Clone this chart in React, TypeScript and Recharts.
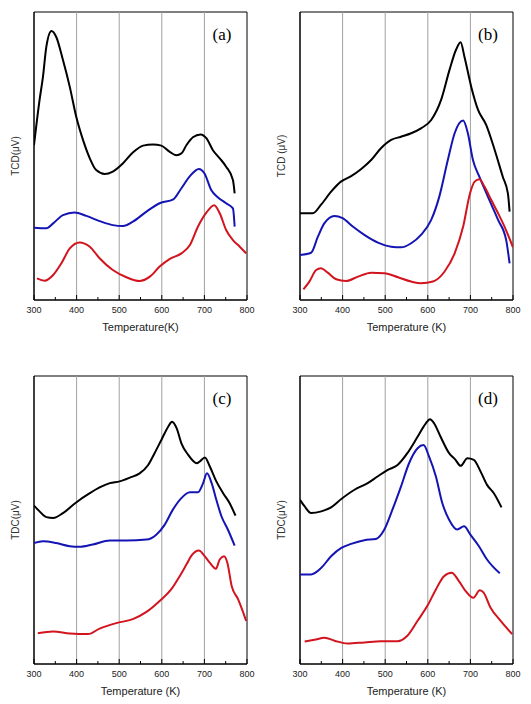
import React from 'react';
import { LineChart, Line, XAxis, YAxis, ReferenceLine, ReferenceArea } from 'recharts';

type P = { t: number; v: number };

const xTicks = [300, 350, 400, 450, 500, 550, 600, 650, 700, 750, 800];
const gridValues = [400, 500, 600, 700];

const aBlack: P[] = [
  { t: 300, v: 53.8 }, { t: 313, v: 69.4 }, { t: 321, v: 77.5 }, { t: 329, v: 88 }, { t: 341, v: 93.4 },
  { t: 352, v: 91.4 }, { t: 368, v: 83.3 }, { t: 384, v: 74 }, { t: 399, v: 63.7 }, { t: 415, v: 55.6 },
  { t: 431, v: 49.2 }, { t: 446, v: 45.1 }, { t: 466, v: 43.75 }, { t: 485, v: 44.6 }, { t: 509, v: 47.5 },
  { t: 532, v: 51.2 }, { t: 556, v: 53.6 }, { t: 579, v: 54 }, { t: 599, v: 53.6 }, { t: 618, v: 51.5 },
  { t: 634, v: 50.3 }, { t: 646, v: 50.9 }, { t: 658, v: 53.8 }, { t: 673, v: 56.5 }, { t: 691, v: 57.5 },
  { t: 705, v: 56.1 }, { t: 720, v: 52 }, { t: 736, v: 49.2 }, { t: 751, v: 46.3 }, { t: 767, v: 41.7 },
  { t: 771, v: 37 },
];
const aBlue: P[] = [
  { t: 300, v: 25.1 }, { t: 329, v: 24.9 }, { t: 345, v: 26.6 }, { t: 368, v: 29.5 }, { t: 395, v: 30.4 },
  { t: 423, v: 29.2 }, { t: 454, v: 27.4 }, { t: 485, v: 26 }, { t: 509, v: 25.7 }, { t: 532, v: 27.2 },
  { t: 564, v: 30.7 }, { t: 595, v: 33.6 }, { t: 627, v: 34.95 }, { t: 646, v: 38.8 }, { t: 666, v: 43 },
  { t: 687, v: 45.5 }, { t: 700, v: 44 }, { t: 716, v: 38.2 }, { t: 732, v: 35.6 }, { t: 751, v: 33.6 },
  { t: 767, v: 31.8 }, { t: 771, v: 25.5 },
];
const aRed: P[] = [
  { t: 307, v: 7.5 }, { t: 325, v: 6.7 }, { t: 345, v: 8.7 }, { t: 364, v: 12.7 }, { t: 384, v: 17.9 },
  { t: 407, v: 20 }, { t: 431, v: 18.5 }, { t: 454, v: 14.5 }, { t: 485, v: 10.4 }, { t: 517, v: 7.9 },
  { t: 548, v: 6.6 }, { t: 572, v: 8.1 }, { t: 595, v: 11.6 }, { t: 618, v: 14.2 }, { t: 646, v: 16.2 },
  { t: 666, v: 19.1 }, { t: 685, v: 25.5 }, { t: 705, v: 30.4 }, { t: 723, v: 32.9 }, { t: 736, v: 30.1 },
  { t: 751, v: 24.3 }, { t: 767, v: 20.8 }, { t: 783, v: 18.5 }, { t: 798, v: 16.2 },
];

const bBlack: P[] = [
  { t: 300, v: 30.1 }, { t: 330, v: 30.1 }, { t: 349, v: 33 }, { t: 373, v: 37.6 }, { t: 396, v: 41.1 },
  { t: 420, v: 43 }, { t: 443, v: 45.4 }, { t: 467, v: 48.6 }, { t: 490, v: 52.7 }, { t: 514, v: 55.6 },
  { t: 537, v: 56.7 }, { t: 561, v: 57.9 }, { t: 584, v: 59.6 }, { t: 608, v: 62.5 }, { t: 631, v: 69.4 },
  { t: 651, v: 79.9 }, { t: 666, v: 86.8 }, { t: 677, v: 89.5 }, { t: 686, v: 84.5 }, { t: 702, v: 74 },
  { t: 718, v: 66 }, { t: 737, v: 60.8 }, { t: 757, v: 52.1 }, { t: 776, v: 42.8 }, { t: 788, v: 37 },
  { t: 792, v: 30.7 },
];
const bBlue: P[] = [
  { t: 300, v: 15.6 }, { t: 326, v: 16.4 }, { t: 342, v: 22 }, { t: 357, v: 26.6 }, { t: 381, v: 29.2 },
  { t: 400, v: 28.4 }, { t: 424, v: 25.5 }, { t: 451, v: 22.6 }, { t: 483, v: 19.9 }, { t: 514, v: 18.5 },
  { t: 537, v: 18.3 }, { t: 561, v: 19.7 }, { t: 584, v: 22.6 }, { t: 608, v: 27.8 }, { t: 627, v: 35.9 },
  { t: 647, v: 48.6 }, { t: 663, v: 57.9 }, { t: 683, v: 62.3 }, { t: 694, v: 57.9 }, { t: 706, v: 48.6 },
  { t: 721, v: 42.8 }, { t: 741, v: 35.9 }, { t: 765, v: 27.8 }, { t: 784, v: 20.8 }, { t: 792, v: 12.7 },
];
const bRed: P[] = [
  { t: 308, v: 3.7 }, { t: 322, v: 6.4 }, { t: 338, v: 10.4 }, { t: 349, v: 11 }, { t: 365, v: 9.5 },
  { t: 385, v: 7.2 }, { t: 408, v: 6.6 }, { t: 436, v: 8.1 }, { t: 467, v: 9.5 }, { t: 498, v: 9.3 },
  { t: 530, v: 7.9 }, { t: 561, v: 6.4 }, { t: 584, v: 5.8 }, { t: 612, v: 6.4 }, { t: 639, v: 9.8 },
  { t: 663, v: 16.2 }, { t: 683, v: 25.5 }, { t: 699, v: 37 }, { t: 710, v: 41.1 }, { t: 721, v: 41.9 },
  { t: 733, v: 39.4 }, { t: 749, v: 34.7 }, { t: 765, v: 30.1 }, { t: 780, v: 25.5 }, { t: 800, v: 18.3 },
];

const cBlack: P[] = [
  { t: 300, v: 55 }, { t: 313, v: 53 }, { t: 329, v: 51 }, { t: 345, v: 50.7 }, { t: 368, v: 52.4 },
  { t: 399, v: 56.1 }, { t: 431, v: 59.3 }, { t: 454, v: 61.3 }, { t: 478, v: 62.8 }, { t: 501, v: 63.4 },
  { t: 525, v: 64.7 }, { t: 548, v: 66.2 }, { t: 568, v: 69.1 }, { t: 583, v: 73.2 }, { t: 599, v: 77.8 },
  { t: 615, v: 82.4 }, { t: 624, v: 84.1 }, { t: 635, v: 81.8 }, { t: 646, v: 76.6 }, { t: 662, v: 72.6 },
  { t: 682, v: 69.7 }, { t: 689, v: 70.3 }, { t: 701, v: 71.7 }, { t: 713, v: 68.5 }, { t: 728, v: 63.4 },
  { t: 744, v: 59.3 }, { t: 759, v: 55.9 }, { t: 773, v: 51.5 },
];
const cBlue: P[] = [
  { t: 300, v: 42 }, { t: 321, v: 42.6 }, { t: 352, v: 42 }, { t: 384, v: 40.9 }, { t: 407, v: 40.7 },
  { t: 438, v: 41.5 }, { t: 478, v: 42.9 }, { t: 517, v: 42.9 }, { t: 564, v: 43.2 }, { t: 587, v: 44.9 },
  { t: 607, v: 48.4 }, { t: 626, v: 53.6 }, { t: 646, v: 57.6 }, { t: 666, v: 59.6 }, { t: 685, v: 59.6 },
  { t: 697, v: 62.8 }, { t: 706, v: 66.2 }, { t: 717, v: 62.8 }, { t: 728, v: 57 }, { t: 740, v: 51.3 },
  { t: 755, v: 46.7 }, { t: 771, v: 41.1 },
];
const cRed: P[] = [
  { t: 309, v: 10.7 }, { t: 345, v: 11.3 }, { t: 384, v: 10.6 }, { t: 427, v: 10.4 }, { t: 454, v: 12.3 },
  { t: 493, v: 14.2 }, { t: 532, v: 15.6 }, { t: 564, v: 18.1 }, { t: 595, v: 21.9 }, { t: 622, v: 25.9 },
  { t: 642, v: 30.5 }, { t: 658, v: 34.6 }, { t: 670, v: 37.7 }, { t: 687, v: 39.4 }, { t: 701, v: 37.4 },
  { t: 713, v: 35.1 }, { t: 727, v: 33.1 }, { t: 736, v: 36.3 }, { t: 746, v: 37.4 }, { t: 754, v: 35.1 },
  { t: 764, v: 27.1 }, { t: 779, v: 22.5 }, { t: 798, v: 15 },
];

const dBlack: P[] = [
  { t: 300, v: 57 }, { t: 311, v: 54.7 }, { t: 326, v: 52.4 }, { t: 350, v: 53 }, { t: 373, v: 54.4 },
  { t: 397, v: 57.3 }, { t: 428, v: 60.5 }, { t: 459, v: 62.8 }, { t: 482, v: 65.1 }, { t: 506, v: 67.4 },
  { t: 529, v: 69.1 }, { t: 552, v: 73.2 }, { t: 576, v: 78.9 }, { t: 595, v: 83.5 }, { t: 605, v: 85 },
  { t: 615, v: 83.5 }, { t: 630, v: 78.9 }, { t: 650, v: 73.2 }, { t: 665, v: 70.9 }, { t: 677, v: 68.8 },
  { t: 693, v: 71.4 }, { t: 708, v: 70.9 }, { t: 724, v: 66.8 }, { t: 739, v: 62.2 }, { t: 755, v: 59.3 },
  { t: 773, v: 54.4 },
];
const dBlue: P[] = [
  { t: 300, v: 31.1 }, { t: 326, v: 31.1 }, { t: 350, v: 33.4 }, { t: 373, v: 37.4 }, { t: 397, v: 40.3 },
  { t: 420, v: 41.7 }, { t: 451, v: 43 }, { t: 478, v: 43.4 }, { t: 498, v: 46.7 }, { t: 517, v: 53.6 },
  { t: 537, v: 61.6 }, { t: 556, v: 69.7 }, { t: 576, v: 74.9 }, { t: 590, v: 76 }, { t: 603, v: 72 },
  { t: 619, v: 65.1 }, { t: 634, v: 55.9 }, { t: 650, v: 50.1 }, { t: 669, v: 46.7 }, { t: 685, v: 47.8 },
  { t: 700, v: 44.9 }, { t: 720, v: 40.9 }, { t: 739, v: 36.3 }, { t: 769, v: 31.5 },
];
const dRed: P[] = [
  { t: 311, v: 7.8 }, { t: 334, v: 8.4 }, { t: 358, v: 9.1 }, { t: 381, v: 8.1 }, { t: 412, v: 7.1 },
  { t: 451, v: 7.5 }, { t: 490, v: 7.9 }, { t: 529, v: 7.9 }, { t: 552, v: 9.8 }, { t: 576, v: 15 },
  { t: 599, v: 20.2 }, { t: 619, v: 25.9 }, { t: 638, v: 30.5 }, { t: 656, v: 31.7 }, { t: 673, v: 28.8 },
  { t: 689, v: 25.3 }, { t: 707, v: 23 }, { t: 722, v: 25.6 }, { t: 731, v: 24.8 }, { t: 747, v: 19.6 },
  { t: 771, v: 15 }, { t: 798, v: 10.4 },
];

const panelLetters = ['(a)', '(b)', '(c)', '(d)'];
const yTitles = ['TCD(\u03bcV)', 'TCD (\u03bcV)', 'TDC(\u03bcV)', 'TDC(\u03bcV)'];
const xTitles = ['Temperature(K)', 'Temperature (K)', 'Temperature (K)', 'Temperature (K)'];

const BLACK = '#000000';
const BLUE = '#1414b4';
const RED = '#d2141e';
const SANS = '"Liberation Sans", Arial, sans-serif';
const SERIF = '"Liberation Serif", "Times New Roman", serif';

const Tick = (props: any) => {
  const { x, y, payload } = props;
  const major = payload.value % 100 === 0;
  return (
    <g>
      <line x1={x} x2={x} y1={y} y2={y - (major ? 5 : 3)} stroke="#000" strokeWidth={1} />
      {major && (
        <text x={x} y={y + 10} textAnchor="middle" dominantBaseline="central" fontSize={9} fontFamily={SANS} fill="#222">
          {payload.value}
        </text>
      )}
    </g>
  );
};

type PanelProps = { idx: number; series: P[][]; left: number; top: number };

const Panel = ({ idx, series, left, top }: PanelProps) => {
  const colors = [BLACK, BLUE, RED];
  return (
    <div style={{ position: 'absolute', left, top }}>
      <LineChart width={265} height={350} margin={{ top: 12, right: 18, bottom: 10, left: 34 }}>
        <XAxis
          type="number"
          dataKey="t"
          domain={[300, 800]}
          ticks={xTicks}
          interval={0}
          allowDataOverflow
          tickSize={0}
          tickMargin={0}
          tickLine={false}
          tick={<Tick />}
          height={40}
          axisLine={{ stroke: '#000' }}
          label={{
            content: (p: any) => {
              const vb = p.viewBox || { x: 0, y: 0, width: 0 };
              return (
                <text x={vb.x + vb.width / 2} y={vb.y + 27} textAnchor="middle" dominantBaseline="central" fontSize={11} fontFamily={SANS} fill="#222">
                  {xTitles[idx]}
                </text>
              );
            },
          }}
        />
        <YAxis type="number" domain={[0, 100]} width={0} tick={false} tickLine={false} axisLine={false} />
        {gridValues.map((g) => (
          <ReferenceLine key={g} x={g} stroke="#a0a0a0" strokeWidth={1} />
        ))}
        <ReferenceLine
          x={300}
          stroke="#000"
          strokeWidth={1}
          label={{
            content: (p: any) => {
              const vb = p.viewBox || { x: 0, y: 0, height: 0 };
              const cx = vb.x - 19;
              const cy = vb.y + vb.height / 2;
              return (
                <text x={cx} y={cy} transform={`rotate(-90 ${cx} ${cy})`} textAnchor="middle" dominantBaseline="central" fontSize={10} fontFamily={SANS} fill="#333">
                  {yTitles[idx]}
                </text>
              );
            },
          }}
        />
        <ReferenceArea
          x1={300}
          x2={800}
          y1={0}
          y2={100}
          fill="none"
          fillOpacity={0}
          stroke="#000"
          strokeWidth={1}
          label={{
            content: (p: any) => {
              const vb = p.viewBox || { x: 0, y: 0, width: 0 };
              return (
                <text x={vb.x + vb.width - 25} y={vb.y + 22} textAnchor="middle" dominantBaseline="central" fontSize={17} fontFamily={SERIF} fill="#000">
                  {panelLetters[idx]}
                </text>
              );
            },
          }}
        />
        {series.map((s, i) => (
          <Line
            key={i}
            data={s}
            dataKey="v"
            type="monotone"
            stroke={colors[i]}
            strokeWidth={2}
            dot={false}
            activeDot={false}
            isAnimationActive={false}
          />
        ))}
      </LineChart>
    </div>
  );
};

export default function App() {
  return (
    <div style={{ position: 'absolute', left: 0, top: 0, width: 531, height: 704, background: '#fff' }}>
      <Panel idx={0} series={[aBlack, aBlue, aRed]} left={0} top={0} />
      <Panel idx={1} series={[bBlack, bBlue, bRed]} left={266} top={0} />
      <Panel idx={2} series={[cBlack, cBlue, cRed]} left={0} top={364} />
      <Panel idx={3} series={[dBlack, dBlue, dRed]} left={266} top={364} />
    </div>
  );
}
